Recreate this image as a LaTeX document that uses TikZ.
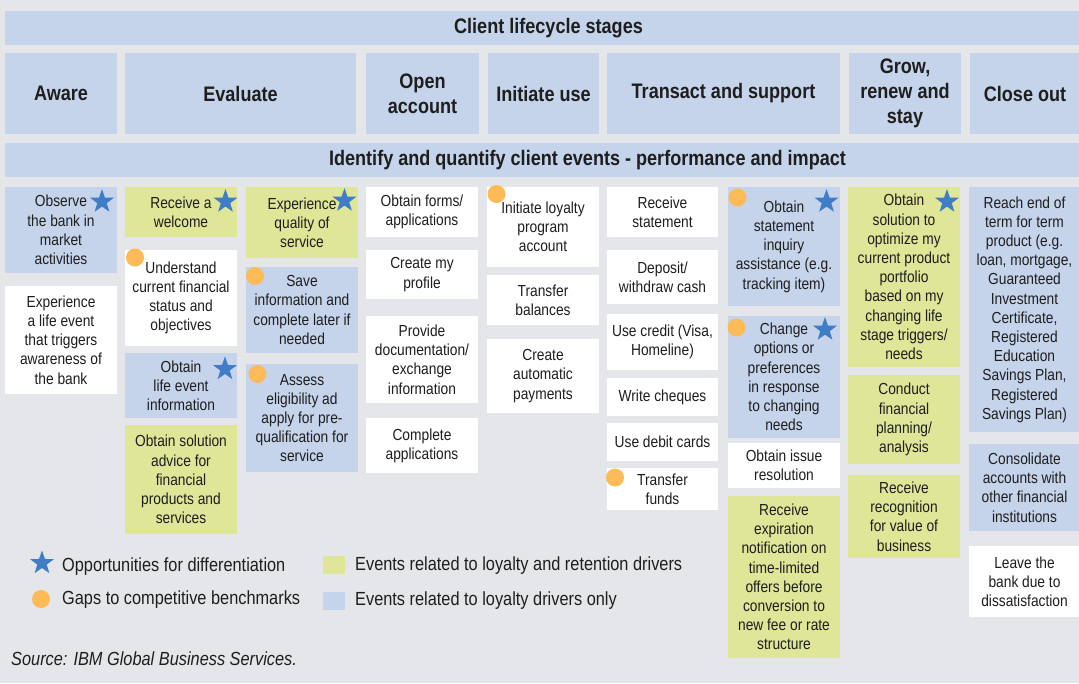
\documentclass[tikz,border=0pt]{standalone}
\usepackage{fontspec}
\setmainfont{Liberation Sans}[FakeStretch=0.86]
\usetikzlibrary{shapes.geometric}
\definecolor{bggray}{HTML}{E4E6E9}
\definecolor{boxblue}{HTML}{C5D3EB}
\definecolor{boxgreen}{HTML}{DFE698}
\definecolor{starblue}{HTML}{3F7EC6}
\definecolor{dotorange}{HTML}{FDBB57}
\definecolor{txt}{HTML}{1E1E1E}
\begin{document}
\begin{tikzpicture}[x=1pt,y=-1pt]
            \fill[bggray] (0,0) rectangle (1079,683);
            \useasboundingbox (0,0) rectangle (1079,683);
            % header bars and stages
            \begin{scope}[every node/.style={fill=boxblue,text=txt,inner sep=0pt,align=center,font=\fontsize{21}{25}\selectfont\bfseries}]
                \node[minimum width=1087pt,minimum height=34pt] (top) at (548.5,28) {};
                \node[fill=none] (toptxt) at (548.5,28) {Client lifecycle stages};
                \node[minimum width=112pt,minimum height=81pt] (aware) at (61,93.5) {Aware};
                \node[minimum width=231pt,minimum height=81pt] (eval) at (240.5,93.5) {Evaluate};
                \node[minimum width=113pt,minimum height=81pt] (open) at (422.5,93.5) {Open\\account};
                \node[minimum width=111pt,minimum height=81pt] (init) at (543.5,93.5) {Initiate use};
                \node[minimum width=233pt,minimum height=81pt] (trans) at (723.5,93.5) {Transact and support};
                \node[minimum width=112pt,minimum height=81pt] (grow) at (905,93.5) {Grow,\\renew and\\stay};
                \node[minimum width=110pt,minimum height=81pt] (close) at (1025,93.5) {Close out};
                \node[minimum width=1075pt,minimum height=34pt] (ident) at (542.5,160) {};
                \node[fill=none] (identtxt) at (587.5,160) {Identify and quantify client events - performance and impact};
            \end{scope}
            % client events
            \begin{scope}[every node/.style={fill=white,text=txt,inner sep=0pt,align=center,minimum width=112pt,font=\fontsize{16}{19.2}\selectfont}]
                \node[fill=boxblue,minimum height=86pt] (obs) at (61,230) {Observe\\the bank in\\market\\activities};
                \node[minimum height=108pt] (life) at (61,340) {Experience\\a life event\\that triggers\\awareness of\\the bank};
                \node[fill=boxgreen,minimum height=50pt] (welc) at (181,212) {Receive a\\welcome};
                \node[minimum height=96pt] (und) at (181,298) {Understand\\current financial\\status and\\objectives};
                \node[fill=boxblue,minimum height=65pt] (info) at (181,385.5) {Obtain\\life event\\information};
                \node[fill=boxgreen,minimum height=109pt] (advice) at (181,479.5) {Obtain solution\\advice for\\financial\\products and\\services};
                \node[fill=boxgreen,minimum height=71pt] (qual) at (302,222.5) {Experience\\quality of\\service};
                \node[fill=boxblue,minimum height=86pt] (save) at (302,310) {Save\\information and\\complete later if\\needed};
                \node[fill=boxblue,minimum height=108pt] (assess) at (302,418) {Assess\\eligibility ad\\apply for pre-\\qualification for\\service};
                \node[minimum height=50pt] (forms) at (422,212) {Obtain forms/\\applications};
                \node[minimum height=49pt] (profile) at (422,274.5) {Create my\\profile};
                \node[minimum height=87pt] (docs) at (422,359.5) {Provide\\documentation/\\exchange\\information};
                \node[minimum height=55pt] (apps) at (422,445.5) {Complete\\applications};
                \node[minimum height=80pt] (loyal) at (543,227) {Initiate loyalty\\program\\account};
                \node[minimum height=50pt] (bal) at (543,300) {Transfer\\balances};
                \node[minimum height=74pt] (auto) at (543,376) {Create\\automatic\\payments};
                \node[minimum width=111pt,minimum height=50pt] (stmt) at (662.5,212) {Receive\\statement};
                \node[minimum width=111pt,minimum height=54pt] (cash) at (662.5,277) {Deposit/\\withdraw cash};
                \node[minimum width=111pt,minimum height=56pt] (credit) at (662.5,342) {Use credit (Visa,\\Homeline)};
                \node[minimum width=111pt,minimum height=38pt] (cheq) at (662.5,397) {Write cheques};
                \node[minimum width=111pt,minimum height=38pt] (debit) at (662.5,442) {Use debit cards};
                \node[minimum width=111pt,minimum height=42pt] (funds) at (662.5,489) {Transfer\\funds};
                \node[fill=boxblue,minimum height=119pt] (inq) at (784,246.5) {Obtain\\statement\\inquiry\\assistance (e.g.\\tracking item)};
                \node[fill=boxblue,minimum height=122pt] (change) at (784,377) {Change\\options or\\preferences\\in response\\to changing\\needs};
                \node[minimum height=45pt] (issue) at (784,465.5) {Obtain issue\\resolution};
                \node[fill=boxgreen,minimum height=162pt] (expiry) at (784,577) {Receive\\expiration\\notification on\\time-limited\\offers before\\conversion to\\new fee or rate\\structure};
                \node[fill=boxgreen,minimum height=180pt] (optim) at (904,277) {Obtain\\solution to\\optimize my\\current product\\portfolio\\based on my\\changing life\\stage triggers/\\needs};
                \node[fill=boxgreen,minimum height=89pt] (plan) at (904,419.5) {Conduct\\financial\\planning/\\analysis};
                \node[fill=boxgreen,minimum height=83pt] (recog) at (904,516.5) {Receive\\recognition\\for value of\\business};
                \node[fill=boxblue,minimum width=111pt,minimum height=245pt] (term) at (1024.5,309.5) {Reach end of\\term for term\\product (e.g.\\loan, mortgage,\\Guaranteed\\Investment\\Certificate,\\Registered\\Education\\Savings Plan,\\Registered\\Savings Plan)};
                \node[fill=boxblue,minimum width=111pt,minimum height=87pt] (consol) at (1024.5,487.5) {Consolidate\\accounts with\\other financial\\institutions};
                \node[minimum width=111pt,minimum height=71pt] (leave) at (1024.5,581.5) {Leave the\\bank due to\\dissatisfaction};
            \end{scope}
            % stars
            \begin{scope}[every node/.style={star,star points=5,star point ratio=2.5,fill=starblue,minimum size=25pt,inner sep=0pt}]
                \node (s1) at (102,201.6) {};
                \node (s2) at (225.5,201.6) {};
                \node (s3) at (344.5,200.6) {};
                \node (s4) at (225,369) {};
                \node (s5) at (826.5,201.6) {};
                \node (s6) at (825,329.6) {};
                \node (s7) at (947,201.6) {};
                \node (s8) at (42,563) {};
            \end{scope}
            % dots
            \begin{scope}[every node/.style={circle,fill=dotorange,minimum size=18pt,inner sep=0pt}]
                \node (d1) at (135,257.5) {};
                \node (d2) at (255,276) {};
                \node (d3) at (257.5,374) {};
                \node (d4) at (496.5,194) {};
                \node (d5) at (615,477.5) {};
                \node (d6) at (737.5,197.5) {};
                \node (d7) at (736.5,327.5) {};
                \node (d8) at (41,599) {};
            \end{scope}
            % legend
            \begin{scope}[every node/.style={text=txt,inner sep=0pt,anchor=west,font=\fontsize{19}{22}\selectfont}]
                \node[fill=boxgreen,minimum width=22pt,minimum height=18pt,anchor=center] (kgreen) at (333.5,565) {};
                \node[fill=boxblue,minimum width=22pt,minimum height=18pt,anchor=center] (kblue) at (333.5,601) {};
                \node (l1) at (62,567) {Opportunities for differentiation};
                \node (l2) at (62,600) {Gaps to competitive benchmarks};
                \node (l3) at (355,566) {Events related to loyalty and retention drivers};
                \node (l4) at (355,601) {Events related to loyalty drivers only};
                \node[font=\fontsize{19}{22}\selectfont\itshape] (src) at (11,659) {Source: IBM Global Business Services.};
            \end{scope}
        \end{tikzpicture}
\end{document}
